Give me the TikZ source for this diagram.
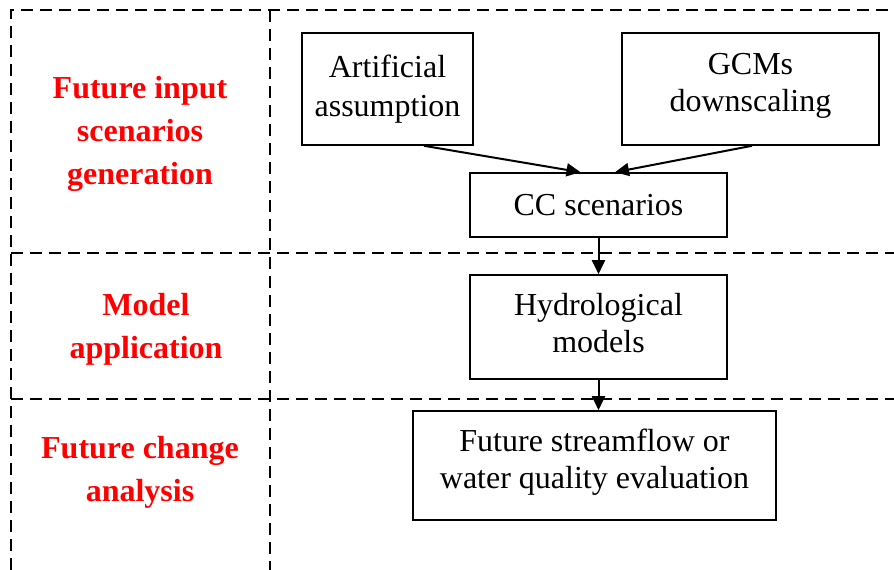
\documentclass[tikz,border=0pt]{standalone}
\usepackage{fontspec}
\setmainfont{Liberation Serif}
\usetikzlibrary{arrows.meta}
% push box text up a little (extra depth under the last line)
\newcommand{\liftup}[1]{\rule[-#1]{0pt}{0pt}}
\begin{document}
\begin{tikzpicture}[x=1pt,y=-1pt,
  procbox/.style={draw, line width=1.6pt, align=center, inner sep=0pt,
    font=\fontsize{32}{37}\selectfont},
  stagelabel/.style={text=red, align=center, font=\fontsize{32}{43}\selectfont\bfseries},
  divider/.style={line width=1.6pt, dash pattern=on 12pt off 7pt},
  flow/.style={-{Triangle[length=14pt,width=13pt]}}]
\useasboundingbox (0,0) rectangle (894,570);

% Dashed frame and stage separators
\draw[divider] (11,570) -- (11,10) -- (894,10);
\draw[divider] (270,10) -- (270,570);
\draw[divider] (11,253) -- (894,253);
\draw[divider] (11,399) -- (894,399);

% Stage labels
\node[stagelabel] (inputlab) at (140,134) {Future input\\scenarios\\generation};
\node[stagelabel] (modellab) at (146,329) {Model\\application};
\node[stagelabel] (changelab) at (140,472) {Future change\\analysis};

% Process boxes
\node[procbox, minimum width=171pt, minimum height=112pt] (artif) at (387.5,89) {Artificial\\[2pt]assumption\liftup{4pt}};
\node[procbox, minimum width=257pt, minimum height=112pt] (gcms) at (750.5,89) {GCMs\\downscaling\liftup{13pt}};
\node[procbox, minimum width=257pt, minimum height=64pt] (ccscen) at (598.5,205) {CC scenarios};
\node[procbox, minimum width=257pt, minimum height=104pt] (hydro) at (598.5,327) {Hydrological\\models\liftup{9pt}};
\node[procbox, minimum width=363pt, minimum height=109pt] (evalbox) at (594.5,465.5) {Future streamflow or\\water quality evaluation\liftup{14pt}};

% Connectors
\draw[flow, line width=2pt] ([xshift=36.5pt]artif.south) -- ([xshift=-18pt]ccscen.north);
\draw[flow, line width=2pt] ([xshift=1.5pt]gcms.south) -- ([xshift=16.5pt]ccscen.north);
\draw[flow, line width=2pt] (ccscen.south) -- (hydro.north);
\draw[flow, line width=2pt] (hydro.south) -- (hydro.south |- evalbox.north);
\end{tikzpicture}
\end{document}
